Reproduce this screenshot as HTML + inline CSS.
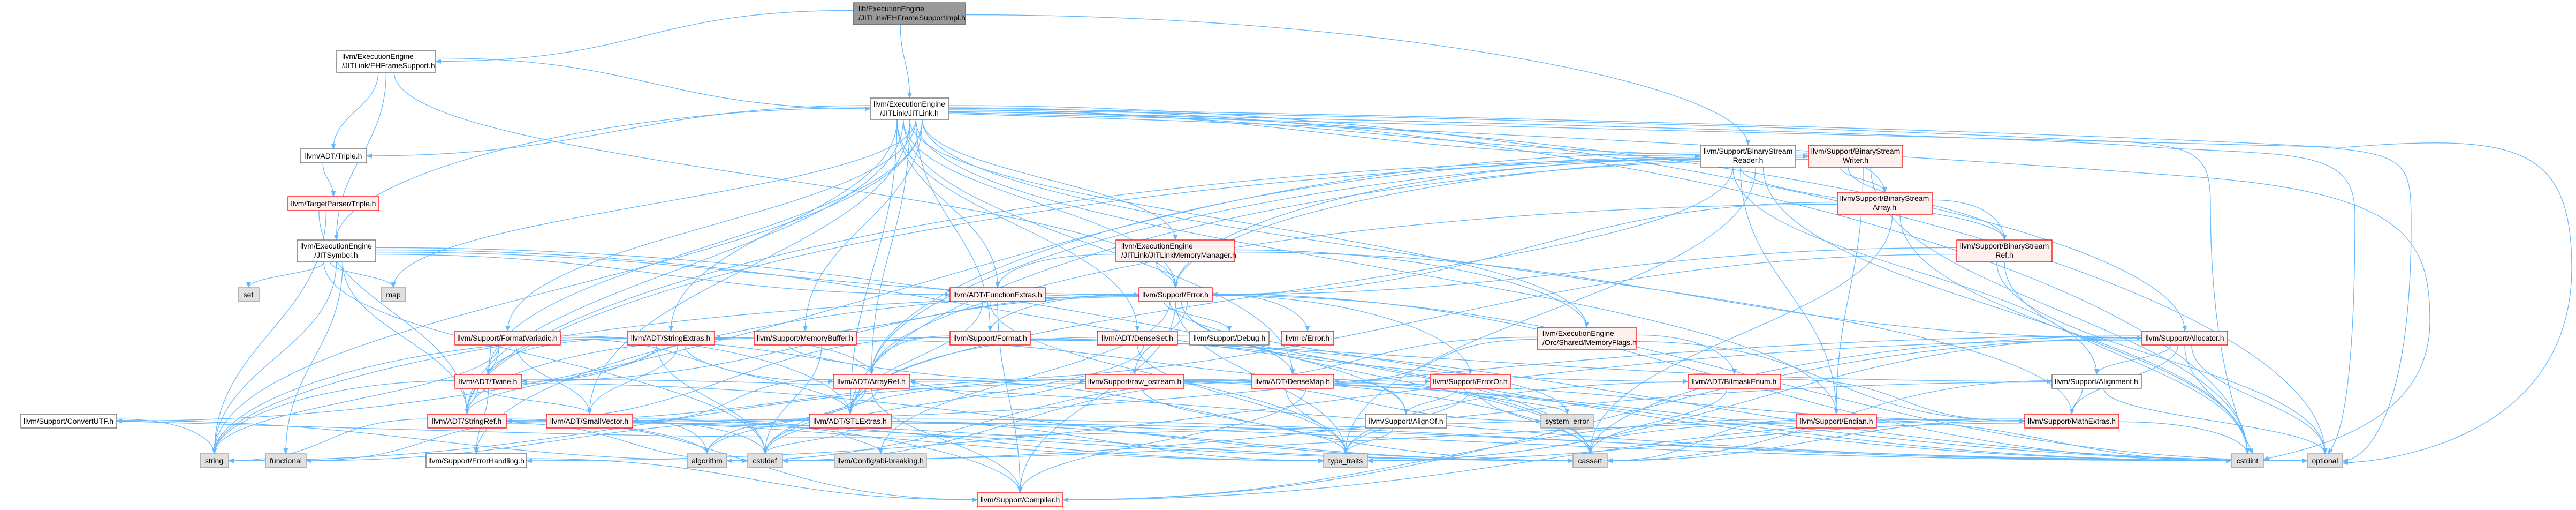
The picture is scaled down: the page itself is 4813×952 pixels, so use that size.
<!DOCTYPE html>
<html><head><meta charset="utf-8"><style>
html,body{margin:0;padding:0;background:#fff;}
svg{display:block;}
text{font-family:"Liberation Sans",Arial,sans-serif;font-size:14px;fill:#000;}
.w{fill:#fff;stroke:#666;stroke-width:1.3}
.r{fill:#fff0f0;stroke:#ff0000;stroke-width:1.3}
.g{fill:#e0e0e0;stroke:#999;stroke-width:1.3}
.d{fill:#999;stroke:#666;stroke-width:1.3}
.e{fill:none;stroke:#63b8ff;stroke-width:1.3}
</style></head><body>
<svg id="s" width="4813" height="952" viewBox="0 0 4813 952" xmlns="http://www.w3.org/2000/svg">
<defs><marker id="a" markerWidth="11" markerHeight="9" refX="10" refY="4.5" orient="auto" markerUnits="userSpaceOnUse"><path d="M0,0 L11,4.5 L0,9 z" fill="#63b8ff"/></marker></defs>
<g id="edges"></g>
<g id="manual">
<path class="e" d="M1773,205 C2600,215 3500,240 3900,262 C4100,268 4130,280 4130,380 C4130,700 4200,830 4210,847" marker-end="url(#a)"/>
<path class="e" d="M1773,208 C2700,225 3800,255 4040,276 C4300,290 4400,280 4400,400 C4400,800 4360,830 4350,847" marker-end="url(#a)"/>
<path class="e" d="M1773,202 C2800,215 3900,250 4300,272 C4500,285 4505,300 4505,420 C4505,780 4420,860 4377,860" marker-end="url(#a)"/>
<path class="e" d="M1773,210 C2900,230 3900,260 4380,275 C4700,250 4805,270 4805,500 C4805,800 4500,860 4377,864" marker-end="url(#a)"/>
<path class="e" d="M1773,212 C2800,240 3700,300 4100,330 C4500,360 4540,450 4540,600 C4540,800 4300,840 4229,858" marker-end="url(#a)"/>
</g>
<g id="nodes">
<rect id="root" class="d" x="1594" y="5" width="210" height="41"/><text x="1604" y="21">lib/ExecutionEngine</text><text x="1604" y="38">/JITLink/EHFrameSupportImpl.h</text>
<rect id="ehs" class="w" x="629" y="94" width="185" height="41"/><text x="639" y="110">llvm/ExecutionEngine</text><text x="639" y="127">/JITLink/EHFrameSupport.h</text>
<rect id="jl" class="w" x="1626" y="183" width="147" height="40"/><text x="1699" y="199" text-anchor="middle">llvm/ExecutionEngine</text><text x="1699" y="216" text-anchor="middle">/JITLink/JITLink.h</text>
<rect id="tri" class="w" x="561" y="278" width="124" height="26"/><text x="623" y="296" text-anchor="middle">llvm/ADT/Triple.h</text>
<rect id="tpt" class="r" x="538" y="367" width="170" height="26"/><text x="623" y="385" text-anchor="middle">llvm/TargetParser/Triple.h</text>
<rect id="jsym" class="w" x="555" y="448" width="147" height="41"/><text x="628" y="464" text-anchor="middle">llvm/ExecutionEngine</text><text x="628" y="481" text-anchor="middle">/JITSymbol.h</text>
<rect id="set" class="g" x="445" y="537" width="39" height="26"/><text x="464" y="555" text-anchor="middle">set</text>
<rect id="map" class="g" x="712" y="537" width="46" height="26"/><text x="735" y="555" text-anchor="middle">map</text>
<rect id="bsr" class="w" x="3177" y="271" width="178" height="41"/><text x="3266" y="287" text-anchor="middle">llvm/Support/BinaryStream</text><text x="3266" y="304" text-anchor="middle">Reader.h</text>
<rect id="bsw" class="r" x="3379" y="271" width="176" height="41"/><text x="3467" y="287" text-anchor="middle">llvm/Support/BinaryStream</text><text x="3467" y="304" text-anchor="middle">Writer.h</text>
<rect id="bsa" class="r" x="3433" y="359" width="177" height="41"/><text x="3521" y="375" text-anchor="middle">llvm/Support/BinaryStream</text><text x="3521" y="392" text-anchor="middle">Array.h</text>
<rect id="bsref" class="r" x="3656" y="448" width="178" height="41"/><text x="3745" y="464" text-anchor="middle">llvm/Support/BinaryStream</text><text x="3745" y="481" text-anchor="middle">Ref.h</text>
<rect id="jlmm" class="r" x="2085" y="448" width="222" height="41"/><text x="2095" y="464">llvm/ExecutionEngine</text><text x="2095" y="481">/JITLink/JITLinkMemoryManager.h</text>
<rect id="fe" class="r" x="1775" y="537" width="178" height="26"/><text x="1864" y="555" text-anchor="middle">llvm/ADT/FunctionExtras.h</text>
<rect id="err" class="r" x="2128" y="537" width="137" height="26"/><text x="2196" y="555" text-anchor="middle">llvm/Support/Error.h</text>
<rect id="alloc" class="r" x="4002" y="618" width="160" height="26"/><text x="4082" y="636" text-anchor="middle">llvm/Support/Allocator.h</text>
<rect id="fv" class="r" x="850" y="618" width="197" height="26"/><text x="948" y="636" text-anchor="middle">llvm/Support/FormatVariadic.h</text>
<rect id="se" class="r" x="1172" y="618" width="163" height="26"/><text x="1253" y="636" text-anchor="middle">llvm/ADT/StringExtras.h</text>
<rect id="mb" class="r" x="1409" y="618" width="191" height="26"/><text x="1504" y="636" text-anchor="middle">llvm/Support/MemoryBuffer.h</text>
<rect id="fmt" class="r" x="1775" y="618" width="150" height="26"/><text x="1850" y="636" text-anchor="middle">llvm/Support/Format.h</text>
<rect id="ds" class="r" x="2050" y="618" width="150" height="26"/><text x="2125" y="636" text-anchor="middle">llvm/ADT/DenseSet.h</text>
<rect id="dbg" class="w" x="2223" y="618" width="148" height="26"/><text x="2297" y="636" text-anchor="middle">llvm/Support/Debug.h</text>
<rect id="cerr" class="r" x="2394" y="618" width="98" height="26"/><text x="2443" y="636" text-anchor="middle">llvm-c/Error.h</text>
<rect id="mf" class="r" x="2872" y="611" width="185" height="41"/><text x="2882" y="627">llvm/ExecutionEngine</text><text x="2882" y="644">/Orc/Shared/MemoryFlags.h</text>
<rect id="ro" class="r" x="2028" y="699" width="184" height="26"/><text x="2120" y="717" text-anchor="middle">llvm/Support/raw_ostream.h</text>
<rect id="dm" class="r" x="2338" y="699" width="154" height="26"/><text x="2415" y="717" text-anchor="middle">llvm/ADT/DenseMap.h</text>
<rect id="eo" class="r" x="2672" y="699" width="150" height="26"/><text x="2747" y="717" text-anchor="middle">llvm/Support/ErrorOr.h</text>
<rect id="bme" class="r" x="3154" y="699" width="173" height="26"/><text x="3240" y="717" text-anchor="middle">llvm/ADT/BitmaskEnum.h</text>
<rect id="aln" class="w" x="3834" y="699" width="167" height="26"/><text x="3917" y="717" text-anchor="middle">llvm/Support/Alignment.h</text>
<rect id="cutf" class="w" x="39" y="773" width="179" height="26"/><text x="128" y="791" text-anchor="middle">llvm/Support/ConvertUTF.h</text>
<rect id="tw" class="r" x="850" y="699" width="125" height="26"/><text x="912" y="717" text-anchor="middle">llvm/ADT/Twine.h</text>
<rect id="ar" class="r" x="1557" y="699" width="143" height="26"/><text x="1628" y="717" text-anchor="middle">llvm/ADT/ArrayRef.h</text>
<rect id="sv" class="r" x="1021" y="773" width="161" height="26"/><text x="1101" y="791" text-anchor="middle">llvm/ADT/SmallVector.h</text>
<rect id="stl" class="r" x="1512" y="773" width="153" height="26"/><text x="1588" y="791" text-anchor="middle">llvm/ADT/STLExtras.h</text>
<rect id="sr" class="r" x="799" y="773" width="147" height="26"/><text x="872" y="791" text-anchor="middle">llvm/ADT/StringRef.h</text>
<rect id="ao" class="w" x="2551" y="773" width="152" height="26"/><text x="2627" y="791" text-anchor="middle">llvm/Support/AlignOf.h</text>
<rect id="syse" class="g" x="2879" y="773" width="98" height="26"/><text x="2928" y="791" text-anchor="middle">system_error</text>
<rect id="end" class="r" x="3356" y="773" width="150" height="26"/><text x="3431" y="791" text-anchor="middle">llvm/Support/Endian.h</text>
<rect id="me" class="r" x="3783" y="773" width="176" height="26"/><text x="3871" y="791" text-anchor="middle">llvm/Support/MathExtras.h</text>
<rect id="str" class="g" x="374" y="847" width="53" height="26"/><text x="400" y="865" text-anchor="middle">string</text>
<rect id="fn" class="g" x="496" y="847" width="76" height="26"/><text x="534" y="865" text-anchor="middle">functional</text>
<rect id="eh" class="w" x="796" y="847" width="188" height="26"/><text x="890" y="865" text-anchor="middle">llvm/Support/ErrorHandling.h</text>
<rect id="algo" class="g" x="1284" y="847" width="74" height="26"/><text x="1321" y="865" text-anchor="middle">algorithm</text>
<rect id="cdef" class="g" x="1397" y="847" width="65" height="26"/><text x="1429" y="865" text-anchor="middle">cstddef</text>
<rect id="abi" class="g" x="1560" y="847" width="171" height="26"/><text x="1645" y="865" text-anchor="middle">llvm/Config/abi-breaking.h</text>
<rect id="tt" class="g" x="2473" y="847" width="82" height="26"/><text x="2514" y="865" text-anchor="middle">type_traits</text>
<rect id="cas" class="g" x="2939" y="847" width="64" height="26"/><text x="2971" y="865" text-anchor="middle">cassert</text>
<rect id="cint" class="g" x="4169" y="847" width="60" height="26"/><text x="4199" y="865" text-anchor="middle">cstdint</text>
<rect id="opt" class="g" x="4311" y="847" width="66" height="26"/><text x="4344" y="865" text-anchor="middle">optional</text>
<rect id="comp" class="r" x="1826" y="920" width="160" height="26"/><text x="1906" y="938" text-anchor="middle">llvm/Support/Compiler.h</text>
</g>
</svg>
<script>
var E={
root:"ehs jl bsr",
ehs:"jl tri jsym err",
jl:"tri jsym bsr bsw jlmm fe err alloc fv mb ds dm mf end me stl sr ar map str opt cint sv fmt tw se",
tri:"tpt",
tpt:"sr str",
jsym:"set map str fn cint cdef err fe sr bme",
bsr:"bsa bsref ar sr cutf aln end err tt cint stl",
bsw:"bsa bsref err end cint ar sr stl",
bsa:"bsref err ar cas cint",
bsref:"err opt cint ar",
jlmm:"err mf alloc fe",
fe:"stl tt comp",
err:"dbg cerr eo ao ro fmt syse tt cas cint opt str comp eh se tw abi",
alloc:"aln me cint opt cas tt comp eh sv",
fv:"tw sr ar sv stl ro str",
se:"sr ar tw sv stl cdef str",
mb:"ar tw sr eo cdef aln",
fmt:"ar sr cas opt",
ds:"dm stl tt cdef",
mf:"bme ro dm me",
ro:"sr ar syse tt cas cint opt str cdef",
dm:"ao tt cas me comp algo cdef",
eo:"ao syse tt cas",
bme:"me cas tt",
aln:"me cas cdef opt",
cutf:"str cdef syse",
tw:"sr sv eh cas cint str",
ar:"sv stl comp algo cas cdef",
sv:"comp algo cdef cas cint tt fn",
stl:"abi algo cdef cas cint fn tt opt",
sr:"comp algo cas cdef str tt",
ao:"tt",
end:"comp cas cint tt",
me:"comp cas cint tt algo",
eh:"comp"
};
function g(id){var r=document.getElementById(id);return{x:+r.getAttribute('x'),y:+r.getAttribute('y'),w:+r.getAttribute('width'),h:+r.getAttribute('height')};}
var out='';
for(var s in E){var a=g(s);E[s].split(' ').forEach(function(t,i){var b=g(t);
 var sx=a.x+a.w/2+(i%5-2)*a.w*0.08, sy=a.y+a.h, tx=b.x+b.w/2, ty=b.y, d;
 var dx=(b.x+b.w/2)-(a.x+a.w/2);
 if(b.y>a.y+a.h-2){
   var dy=ty-sy;
   if(Math.abs(dx)>4*dy){ sy=a.y+a.h*(0.35+0.1*(i%4)); sx=dx>0?a.x+a.w:a.x;
     if(Math.abs(dx)>6*(b.y+b.h/2-sy)){ty=b.y+b.h/2;tx=dx>0?b.x:b.x+b.w;d='M'+sx+','+sy+' C'+(sx+dx*0.4)+','+sy+' '+(tx-dx*0.4)+','+ty+' '+tx+','+ty;}
     else{d='M'+sx+','+sy+' C'+(sx+dx*0.5)+','+sy+' '+tx+','+(ty-dy*0.5)+' '+tx+','+ty;}
   } else d='M'+sx+','+sy+' C'+sx+','+(sy+dy*0.45)+' '+tx+','+(ty-dy*0.45)+' '+tx+','+ty;}
 else if(Math.abs(b.y-a.y)<10){sy=a.y+a.h/2;ty=b.y+b.h/2;if(b.x>a.x){sx=a.x+a.w;tx=b.x;}else{sx=a.x;tx=b.x+b.w;}d='M'+sx+','+sy+' C'+((sx+tx)/2)+','+(sy+40)+' '+((sx+tx)/2)+','+(ty+40)+' '+tx+','+ty;}
 else{ty=b.y+b.h;d='M'+sx+','+sy+' C'+sx+','+(sy+60)+' '+tx+','+(ty+60)+' '+tx+','+ty;}
 out+='<path class="e" d="'+d+'" marker-end="url(#a)"/>';});}
document.getElementById('edges').innerHTML=out;
</script>
</body></html>
